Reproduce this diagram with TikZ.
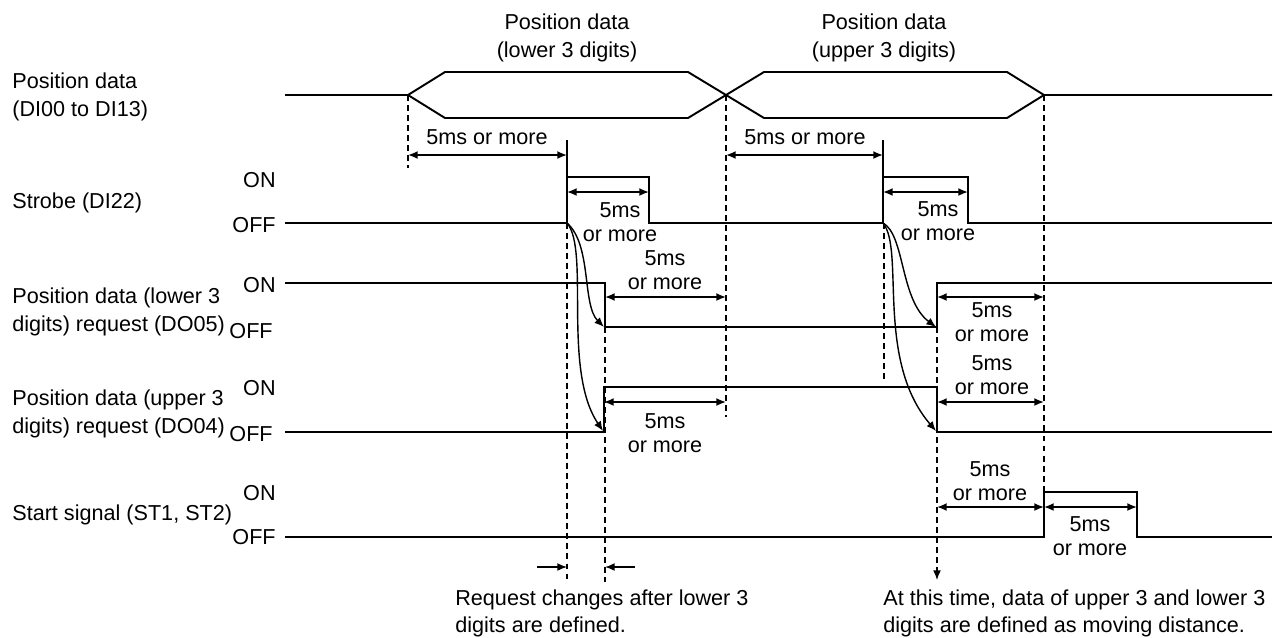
\documentclass[tikz,border=0pt]{standalone}
\usepackage{fontspec}
\setmainfont{Liberation Sans}
\usetikzlibrary{arrows.meta}

\tikzset{
  sig/.style={line width=1.1pt},
  guide/.style={line width=0.8pt,dash pattern=on 3.4pt off 2.3pt},
  span/.style={line width=0.9pt,<->},
  lbl/.style={font=\fontsize{12.3}{16}\selectfont,align=left,anchor=west,inner sep=0pt},
  lvl/.style={font=\fontsize{12.3}{16}\selectfont,anchor=east,inner sep=0pt},
  ms/.style={font=\fontsize{12.3}{13.7}\selectfont,align=center,inner sep=0pt},
}

\begin{document}
\begin{tikzpicture}[x=0.02cm,y=-0.02cm,>={Latex[length=5.5pt,width=4.5pt]}]
  \useasboundingbox (0,0) rectangle (1275,637);
  % signal names and levels
  \node[lbl] (nbus) at (12,97) {Position data\\(DI00 to DI13)};
  \node[lbl] (nstb) at (12,203) {Strobe (DI22)};
  \node[lbl] (nlow) at (12,312) {Position data (lower 3\\digits) request (DO05)};
  \node[lbl] (nupp) at (12,414) {Position data (upper 3\\digits) request (DO04)};
  \node[lbl] (nst) at (12,515) {Start signal (ST1, ST2)};
  \foreach \y/\t in {180/ON,225/OFF,285/ON,388/ON,493/ON,537/OFF}
    \node[lvl] at (276,\y) {\t};
  \foreach \y in {331,434}
    \node[lvl] at (273,\y) {OFF};
  % data bus
  \node[ms,font=\fontsize{12.3}{16}\selectfont] (dlow) at (567,38) {Position data\\(lower 3 digits)};
  \node[ms,font=\fontsize{12.3}{16}\selectfont] (dupp) at (884,38) {Position data\\(upper 3 digits)};
  \draw[sig] (285,95) -- (408,95) -- (445,72) -- (688,72) -- (726,95) -- (764,118) -- (1007,118) -- (1044,95) -- (1272,95);
  \draw[sig] (408,95) -- (445,118) -- (688,118) -- (726,95) -- (764,72) -- (1007,72) -- (1044,95);
  % waveforms
  \draw[sig] (285,223) -- (567,223) -- (567,177) -- (649,177) -- (649,223) -- (883,223) -- (883,177) -- (968,177) -- (968,223) -- (1272,223);
  \draw[sig] (285,283) -- (605,283) -- (605,327) -- (937,327) -- (937,283) -- (1272,283);
  \draw[sig] (285,432) -- (604,432) -- (604,387) -- (937,387) -- (937,432) -- (1272,432);
  \draw[sig] (285,537) -- (1044,537) -- (1044,492) -- (1137,492) -- (1137,537) -- (1272,537);
  % guide lines
  \draw[guide] (408,95) -- (408,168);
  \draw[guide] (726,95) -- (726,417);
  \draw[guide] (1044,95) -- (1044,492);
  \draw[guide] (567,223) -- (567,582);
  \draw[guide] (605,327) -- (605,582);
  \draw[guide] (884,223) -- (884,380);
  \draw[guide,->] (937,327) -- (937,580);
  \draw[line width=0.8pt] (567,140) -- (567,177);
  \draw[line width=0.8pt] (883,140) -- (883,177);
  % timing spans
  \draw[span] (408,155) -- (567,155);
  \node[ms] at (487,137) {5ms or more};
  \draw[span] (726,155) -- (883,155);
  \node[ms] at (805,137) {5ms or more};
  \draw[span] (567,192) -- (649,192);
  \node[ms] at (620,222) {5ms\\or more};
  \draw[span] (883,192) -- (968,192);
  \node[ms] at (938,221) {5ms\\or more};
  \draw[span] (605,297) -- (726,297);
  \node[ms] at (665,270) {5ms\\or more};
  \draw[span] (604,402) -- (726,402);
  \node[ms] at (665,433) {5ms\\or more};
  \draw[span] (937,297) -- (1044,297);
  \node[ms] at (992,322) {5ms\\or more};
  \draw[span] (937,402) -- (1044,402);
  \node[ms] at (992,375) {5ms\\or more};
  \draw[span] (937,507) -- (1044,507);
  \node[ms] at (990,481) {5ms\\or more};
  \draw[span] (1044,507) -- (1137,507);
  \node[ms] at (1090,536) {5ms\\or more};
  % response curves
  \coordinate (s1) at (567,223);
  \coordinate (r1) at (604,327);
  \coordinate (u1) at (603,431);
  \coordinate (s2) at (883,223);
  \coordinate (r2) at (936,327);
  \coordinate (u2) at (936,431);
  \draw[line width=0.8pt,->] (s1) .. controls (592,245) and (582,305) .. (r1);
  \draw[line width=0.8pt,->] (s1) .. controls (590,250) and (562,370) .. (u1);
  \draw[line width=0.8pt,->] (s2) .. controls (905,235) and (900,300) .. (r2);
  \draw[line width=0.8pt,->] (s2) .. controls (905,250) and (875,360) .. (u2);
  % notes
  \draw[line width=0.8pt,->] (537,567) -- (567,567);
  \draw[line width=0.8pt,->] (635,567) -- (605,567);
  \node[lbl,font=\fontsize{12.3}{15.4}\selectfont] (nreq) at (455,613) {Request changes after lower 3\\digits are defined.};
  \node[lbl,font=\fontsize{12.3}{15.4}\selectfont] (ndef) at (883,613) {At this time, data of upper 3 and lower 3\\digits are defined as moving distance.};
\end{tikzpicture}
\end{document}
